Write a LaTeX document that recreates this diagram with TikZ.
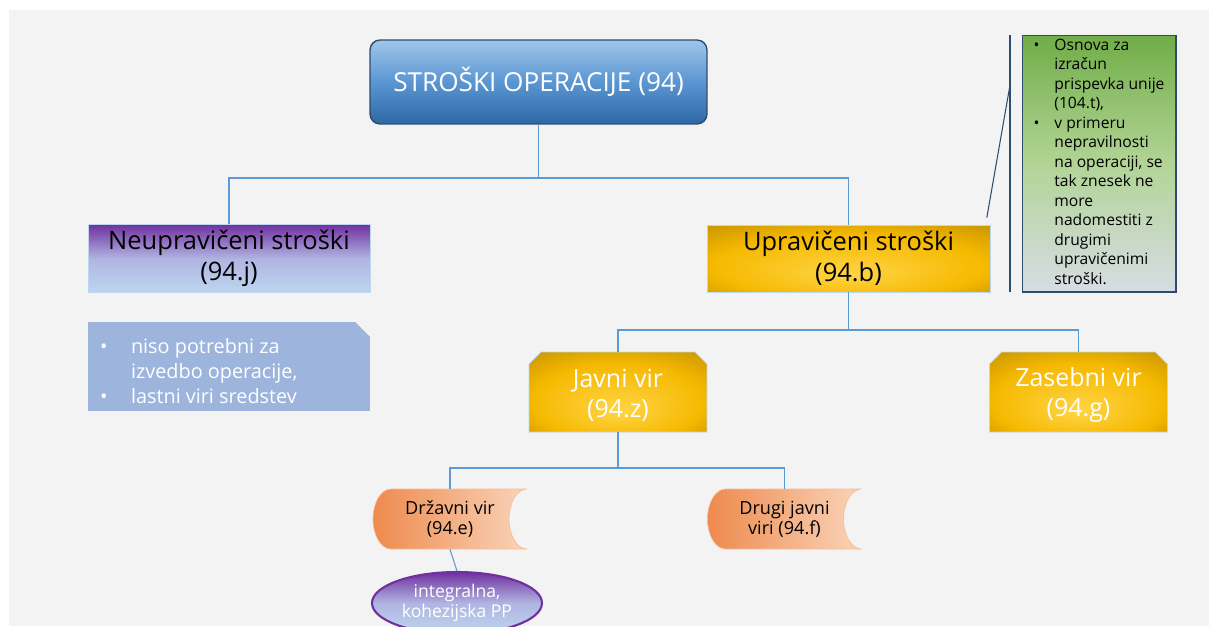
\documentclass[tikz,border=0pt]{standalone}
\usepackage{fontspec}
\setmainfont{Open Sans}
\usetikzlibrary{positioning, shapes.misc, shapes.geometric}

\definecolor{pagegray}{RGB}{243,243,243}
\definecolor{linkblue}{RGB}{91,155,213}
\definecolor{frameblue}{RGB}{47,76,110}
\definecolor{headtop}{RGB}{160,198,234}
\definecolor{headmid}{RGB}{90,150,210}
\definecolor{headbot}{RGB}{46,104,164}
\definecolor{violet}{RGB}{112,48,160}
\definecolor{lavender}{RGB}{176,180,226}
\definecolor{paleblue}{RGB}{189,215,238}
\definecolor{notefill}{RGB}{157,180,221}
\definecolor{goldlight}{RGB}{255,212,70}
\definecolor{goldmid}{RGB}{245,185,0}
\definecolor{golddark}{RGB}{160,118,0}
\definecolor{leafgreen}{RGB}{112,173,71}
\definecolor{leafmid}{RGB}{178,212,150}
\definecolor{leafgray}{RGB}{214,220,229}
\definecolor{peachdark}{RGB}{238,138,78}
\definecolor{peachlight}{RGB}{250,212,186}
\definecolor{peachline}{RGB}{246,190,150}

\pgfdeclareradialshading{goldglow}{\pgfpoint{0bp}{-12bp}}{color(0bp)=(goldlight); color(24bp)=(goldmid); color(50bp)=(golddark)}

\tikzset{
  conn/.style={draw=linkblue, line width=0.6pt},
  calloutline/.style={draw=frameblue, line width=0.6pt},
  headbox/.style={draw=frameblue, line width=0.8pt, rounded corners=0.2cm,
    top color=headtop, bottom color=headbot, middle color=headmid,
    text=white, minimum width=6.74cm, minimum height=1.68cm,
    font=\fontsize{14.9}{18}\selectfont},
  violetbox/.style={draw=paleblue, line width=0.4pt, top color=violet,
    bottom color=paleblue, middle color=lavender, minimum width=5.64cm,
    minimum height=1.34cm, align=center, font=\fontsize{14.5}{17.5}\selectfont},
  goldbox/.style={draw=paleblue, line width=0.4pt, shading=goldglow,
    minimum width=5.66cm, minimum height=1.34cm, align=center,
    font=\fontsize{14.5}{17.5}\selectfont},
  goldsnip/.style={goldbox, chamfered rectangle, chamfered rectangle corners={north west, north east},
    chamfered rectangle xsep=0.12cm, chamfered rectangle ysep=0.12cm, inner sep=0pt,
    minimum width=3.56cm, minimum height=1.6cm, text=white,
    font=\fontsize{14.2}{17.2}\selectfont},
  notebox/.style={fill=notefill, inner sep=0pt, minimum width=5.64cm,
    minimum height=1.76cm, text=white, font=\fontsize{11.3}{14.2}\selectfont,
    path picture={\fill[pagegray] (path picture bounding box.north east)
      -- ++(-0.3cm,0) -- ++(0.3cm,-0.3cm) -- cycle;}},
  greenbox/.style={draw=frameblue, line width=0.6pt, top color=leafgreen,
    bottom color=leafgray, middle color=leafmid, minimum width=3.08cm,
    minimum height=5.14cm, inner sep=0pt, font=\fontsize{8.9}{11.1}\selectfont},
  peachtext/.style={minimum width=3.08cm, minimum height=1.2cm, align=center,
    font=\fontsize{10.3}{11.4}\selectfont},
  lensbox/.style={ellipse, draw=violet, line width=1.2pt, top color=violet,
    bottom color=paleblue, middle color=lavender, minimum width=3.4cm,
    minimum height=1.24cm, inner sep=0pt, text=white, align=center,
    font=\fontsize{10}{11.2}\selectfont}
}

% stored-data outline, centre given in px
\newcommand{\peachshape}[2]{%
  \begin{scope}[shift={(#1,#2)}]
    \shade[left color=peachdark, right color=peachlight, draw=peachline, line width=0.4pt]
      (77,30) arc[start angle=90, end angle=270, x radius=0.36cm, y radius=0.6cm]
      -- (-59,-30) arc[start angle=270, end angle=90, x radius=0.36cm, y radius=0.6cm]
      -- cycle;
  \end{scope}}

\begin{document}
\begin{tikzpicture}[x=0.02cm, y=0.02cm]
  \useasboundingbox (0,0) rectangle (1209,-626);
  \fill[pagegray] (9,-10) rectangle (1209,-626);

  % upper level
  \node[headbox] (operacija) at (538.5,-82) {STROŠKI OPERACIJE (94)};
  \node[violetbox] (neupr) at (229,-258.5) {Neupravičeni stroški\\(94.j)};
  \node[goldbox] (upr) at (848.5,-258.5) {Upravičeni stroški\\(94.b)};

  \coordinate (split1) at (538.5,-178);
  \draw[conn] (operacija.south) -- (split1) -| (neupr.north);
  \draw[conn] (split1) -| (upr.north);

  \node[notebox] (neuprnote) at (229,-366) {\begin{tabular}{@{}p{0.62cm}@{}p{4.54cm}@{}}
      •\rule{0pt}{18pt} & niso potrebni za \\
        & izvedbo operacije, \\
      • & lastni viri sredstev
    \end{tabular}};

  % callout
  \node[greenbox] (osnova) at (1099,-163.5) {\begin{tabular}{@{}l@{\hspace{0.3cm}}l@{}}
      • & Osnova za \\
        & izračun \\
        & prispevka unije \\
        & (104.t), \\
      • & v primeru \\
        & nepravilnosti \\
        & na operaciji, se \\
        & tak znesek ne \\
        & more \\
        & nadomestiti z \\
        & drugimi \\
        & upravičenimi \\
        & stroški.
    \end{tabular}};
  \coordinate (bracetop) at (1010,-35);
  \coordinate (bracebot) at (1010,-292);
  \coordinate (bracetip) at (1010,-85);
  \draw[calloutline] (bracetop) -- (bracebot);
  \draw[calloutline] ([xshift=-2pt,yshift=4pt]upr.north east) -- (bracetip);

  % sources
  \node[goldsnip] (javni) at (618,-392) {\rule{0pt}{14pt}Javni vir\\(94.z)};
  \node[goldsnip] (zasebni) at (1078.5,-392) {\rule{0pt}{14pt}Zasebni vir\\(94.g)};

  \coordinate (split2) at (848.5,-330);
  \draw[conn] (upr.south) -- (split2) -| (javni.north);
  \draw[conn] (split2) -| (zasebni.north);

  % public sources
  \peachshape{450}{-519}
  \peachshape{784.5}{-519}
  \node[peachtext] (drzavni) at (450,-519) {Državni vir\\(94.e)};
  \node[peachtext] (drugi) at (784.5,-519) {Drugi javni\\viri (94.f)};

  \coordinate (split3) at (618,-468);
  \draw[conn] (javni.south) -- (split3) -| (drzavni.north);
  \draw[conn] (split3) -| (drugi.north);

  \node[lensbox] (integral) at (457,-603) {integralna,\\kohezijska PP};
  \draw[conn] (drzavni.south) -- (integral.north);
\end{tikzpicture}
\end{document}
